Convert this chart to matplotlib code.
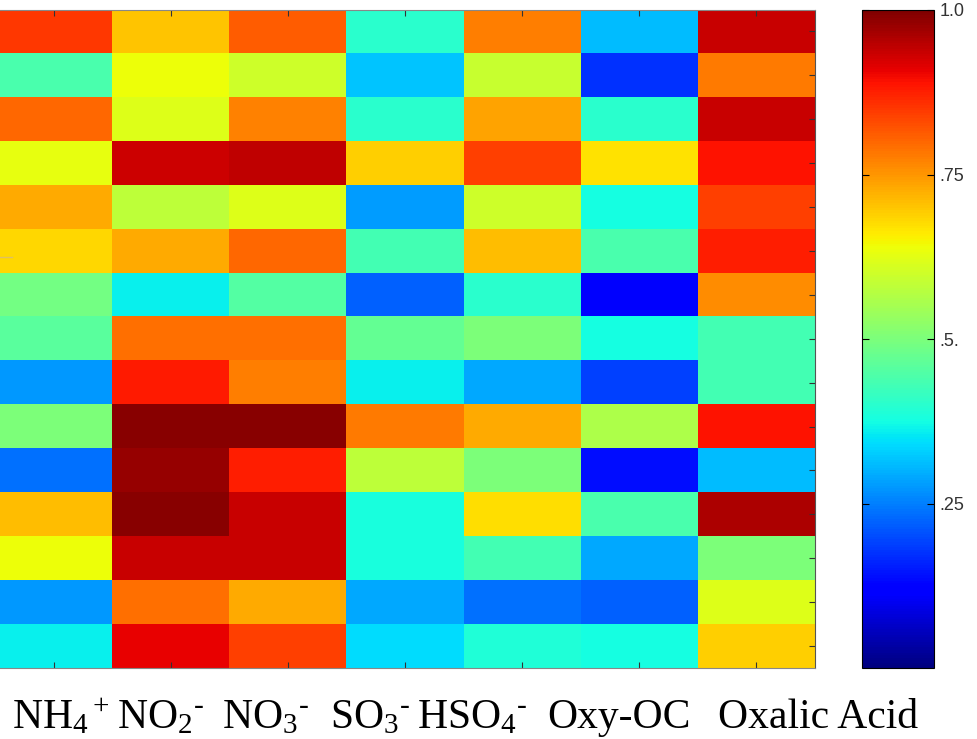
import numpy as np
import matplotlib
matplotlib.use("Agg")
import matplotlib.pyplot as plt
from matplotlib.lines import Line2D

# 相關係數熱圖：15 筆樣本 × 7 種成分，jet 色階 0–1
species = [r"NH$_4$$^+$", r"NO$_2$$^{\text{-}}$", r"NO$_3$$^{\text{-}}$", r"SO$_3$$^{\text{-}}$",
           r"HSO$_4$$^{\text{-}}$", "Oxy-OC", "Oxalic Acid"]

nh4    = [0.85, 0.44, 0.80, 0.63, 0.73, 0.68, 0.49, 0.46, 0.275, 0.50, 0.235, 0.71, 0.64, 0.275, 0.36]
no2    = [0.70, 0.64, 0.62, 0.93, 0.58, 0.73, 0.36, 0.79, 0.88, 0.99, 0.98, 0.99, 0.935, 0.79, 0.91]
no3    = [0.81, 0.60, 0.77, 0.945, 0.62, 0.80, 0.45, 0.79, 0.775, 0.99, 0.875, 0.935, 0.935, 0.73, 0.84]
so3    = [0.40, 0.32, 0.40, 0.69, 0.28, 0.43, 0.22, 0.47, 0.36, 0.78, 0.58, 0.38, 0.38, 0.29, 0.34]
hso4   = [0.775, 0.59, 0.735, 0.84, 0.60, 0.71, 0.40, 0.50, 0.29, 0.73, 0.50, 0.675, 0.43, 0.235, 0.39]
oxy_oc = [0.31, 0.175, 0.40, 0.67, 0.375, 0.44, 0.11, 0.375, 0.19, 0.56, 0.14, 0.44, 0.29, 0.22, 0.375]
oxalic = [0.935, 0.78, 0.935, 0.89, 0.84, 0.875, 0.76, 0.43, 0.43, 0.89, 0.31, 0.96, 0.50, 0.62, 0.69]

cbar_ticks = [0.25, 0.5, 0.75, 1.0]
cbar_ticklabels = [".25", ".5.", ".75", "1.0"]

data = np.column_stack([nh4, no2, no3, so3, hso4, oxy_oc, oxalic])
nrow, ncol = data.shape

W, H = 977, 739
plt.rcParams["mathtext.fontset"] = "custom"
plt.rcParams["mathtext.rm"] = "Liberation Serif"
plt.rcParams["mathtext.it"] = "Liberation Serif:italic"

fig = plt.figure(figsize=(W / 100, H / 100), dpi=100)
fig.patch.set_facecolor("white")

# 主圖左緣刻意伸出畫布外一點
ax = fig.add_axes([-5 / W, 1 - 668 / H, 820 / W, (668 - 9.5) / H])
im = ax.imshow(data, cmap="jet", vmin=0, vmax=1, aspect="auto", interpolation="nearest")
ax.set_xticks(np.arange(ncol))
ax.set_yticks(np.arange(nrow))
ax.tick_params(axis="both", direction="in", length=4, width=0.8, color="#333333",
               top=True, bottom=True, right=True, left=False,
               labeltop=False, labelbottom=False, labelleft=False, labelright=False)
for side in ("top", "bottom"):
    ax.spines[side].set_color("#888888")
ax.spines["right"].set_color("#555555")
ax.spines["left"].set_visible(False)

cax = fig.add_axes([862 / W, 1 - 668 / H, 72 / W, (668 - 10) / H])
cb = fig.colorbar(im, cax=cax)
cb.set_ticks(cbar_ticks)
cb.set_ticklabels(cbar_ticklabels)
cb.outline.set_linewidth(0.8)
cax.tick_params(direction="in", length=5, width=0.8, left=True, right=True,
                labelsize=13, pad=4, labelcolor="#333333")
for t in cax.get_yticklabels():
    t.set_fontfamily("Liberation Sans")

# 底下一排成分名（各自的起點，像素）
label_x = [12, 117, 222, 330, 417, 547, 718]
for name, x in zip(species, label_x):
    fig.text(x / W, 1 - 728 / H, name, fontsize=30, family="Liberation Serif",
             ha="left", va="baseline", color="black")

# 左側那一小段線
fig.add_artist(Line2D([0, 12 / W], [1 - 257 / H] * 2, transform=fig.transFigure,
                      color="#e0c060", lw=1))

fig.savefig("out.png", dpi=100)
